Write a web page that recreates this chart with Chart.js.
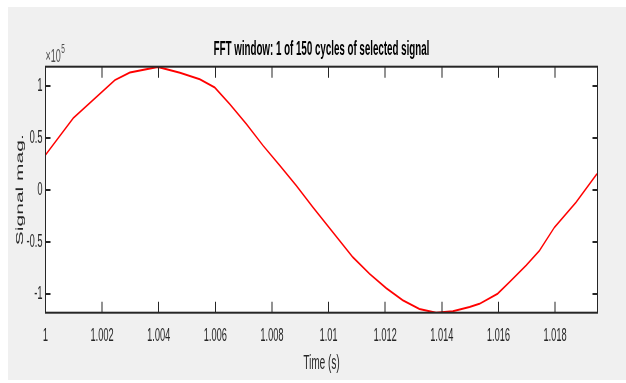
<!DOCTYPE html>
<html>
<head>
<meta charset="utf-8">
<script src="https://cdn.jsdelivr.net/npm/chart.js@4.4.1/dist/chart.umd.min.js"></script>
<style>
  html, body { margin: 0; padding: 0; background: #fff; overflow: hidden; }
  canvas { display: block; }
</style>
</head>
<body>
<!-- drawn twice as wide, then squeezed back to 626px like the reference -->
<canvas id="fftChart" width="1252" height="383" style="width:626px;height:383px"></canvas>
<script>
// one cycle of the selected signal
const timeS = [1.0000, 1.00098, 1.00245, 1.00298, 1.00397, 1.00475, 1.00545, 1.00598, 1.00651, 1.0071,
  1.00769, 1.00828, 1.00886, 1.00945, 1.01, 1.01086, 1.01145, 1.01204, 1.01262, 1.01321,
  1.0138, 1.01439, 1.01498, 1.01533, 1.01597, 1.01639, 1.01698, 1.01745, 1.01798, 1.01874, 1.01948];
const signalMag = [33600, 69100, 105600, 112900, 118300, 112600, 106500, 98500, 82500, 63300,
  42500, 23300, 4100, -16700, -35500, -64700, -80600, -94500, -106000, -114500,
  -118000, -116500, -112500, -109500, -99800, -88700, -72600, -58300, -35900, -11900, 15400];

const xTickValues = [1, 1.002, 1.004, 1.006, 1.008, 1.01, 1.012, 1.014, 1.016, 1.018];
const xTickLabels = ['1', '1.002', '1.004', '1.006', '1.008', '1.01', '1.012', '1.014', '1.016', '1.018'];
const yTickValues = [-100000, -50000, 0, 50000, 100000];
const yTickLabels = ['-1', '-0.5', '0', '0.5', '1'];

const axisColor = '#262626';

const frame = {
  id: 'frame',
  beforeDraw(chart) {
    const {ctx, chartArea: a} = chart;
    ctx.save();
    ctx.fillStyle = '#fff';
    ctx.fillRect(0, 0, chart.width, chart.height);
    ctx.fillStyle = '#f0f0f0';
    ctx.fillRect(16, 7, chart.width - 16, 373);
    ctx.fillStyle = '#fff';
    ctx.fillRect(a.left, a.top, a.right - a.left, a.bottom - a.top);
    ctx.restore();
  },
  afterDraw(chart) {
    const {ctx, chartArea: a, scales} = chart;
    ctx.save();
    ctx.strokeStyle = axisColor;
    ctx.lineWidth = 2;
    ctx.beginPath();
    // inward ticks on all four sides
    xTickValues.forEach(v => {
      const px = Math.round(scales.x.getPixelForValue(v));
      ctx.moveTo(px, a.bottom); ctx.lineTo(px, a.bottom - 11);
      ctx.moveTo(px, a.top); ctx.lineTo(px, a.top + 11);
    });
    yTickValues.forEach(v => {
      const py = Math.round(scales.y.getPixelForValue(v));
      ctx.moveTo(a.left, py); ctx.lineTo(a.left + 10, py);
      ctx.moveTo(a.right, py); ctx.lineTo(a.right - 10, py);
    });
    ctx.stroke();
    ctx.strokeRect(a.left, a.top, a.right - a.left, a.bottom - a.top);

    // exponent label
    ctx.fillStyle = '#4d4d4d';
    ctx.textBaseline = 'alphabetic';
    ctx.font = '18px "Liberation Sans"';
    ctx.fillText('\u00d710', a.left, 62);
    const w = ctx.measureText('\u00d710').width;
    ctx.font = '13px "Liberation Sans"';
    ctx.fillText('5', a.left + w + 1, 53);
    ctx.restore();
  }
};

const ctx = document.getElementById('fftChart').getContext('2d');
const fftChart = new Chart(ctx, {
  type: 'line',
  data: {
    datasets: [{
      label: 'Signal',
      data: timeS.map((t, i) => ({x: t, y: signalMag[i]})),
      borderColor: '#ff0000',
      borderWidth: 2,
      pointRadius: 0,
      tension: 0,
      fill: false
    }]
  },
  options: {
    responsive: false,
    devicePixelRatio: 1,
    animation: false,
    layout: { padding: { top: 0, right: 57, bottom: 0, left: 0 } },
    plugins: {
      legend: { display: false },
      tooltip: { enabled: false },
      title: {
        display: true,
        fullSize: false,
        text: 'FFT window: 1 of 150 cycles of selected signal',
        color: '#000',
        font: { family: 'Liberation Sans', size: 19.5, weight: 'bold' },
        padding: { top: 38.3, bottom: 5 }
      }
    },
    scales: {
      x: {
        type: 'linear',
        min: 1,
        max: 1.0195,
        grid: { display: false, drawTicks: false },
        border: { display: false },
        afterBuildTicks: s => { s.ticks = xTickValues.map(v => ({value: v})); },
        afterFit: s => { s.height = 70.3; },
        ticks: {
          autoSkip: false,
          maxRotation: 0,
          padding: 12.5,
          color: axisColor,
          font: { family: 'Liberation Sans', size: 18.5 },
          callback: (v, i) => xTickLabels[i]
        },
        title: {
          display: true,
          text: 'Time (s)',
          color: axisColor,
          font: { family: 'Liberation Sans', size: 20 },
          padding: { top: 0, bottom: 8 }
        }
      },
      y: {
        min: -118000,
        max: 118500,
        grid: { display: false, drawTicks: false },
        border: { display: false },
        afterBuildTicks: s => { s.ticks = yTickValues.map(v => ({value: v})); },
        afterFit: s => { s.width = 91; },
        ticks: {
          autoSkip: false,
          padding: 6,
          color: axisColor,
          font: { family: 'Liberation Sans', size: 18.5 },
          callback: (v, i) => yTickLabels[i]
        },
        title: {
          display: true,
          text: 'Signal mag.',
          color: axisColor,
          font: { family: 'Liberation Sans', size: 21 },
          padding: { top: 27.4, bottom: 0 }
        }
      }
    }
  },
  plugins: [frame]
});
</script>
</body>
</html>
